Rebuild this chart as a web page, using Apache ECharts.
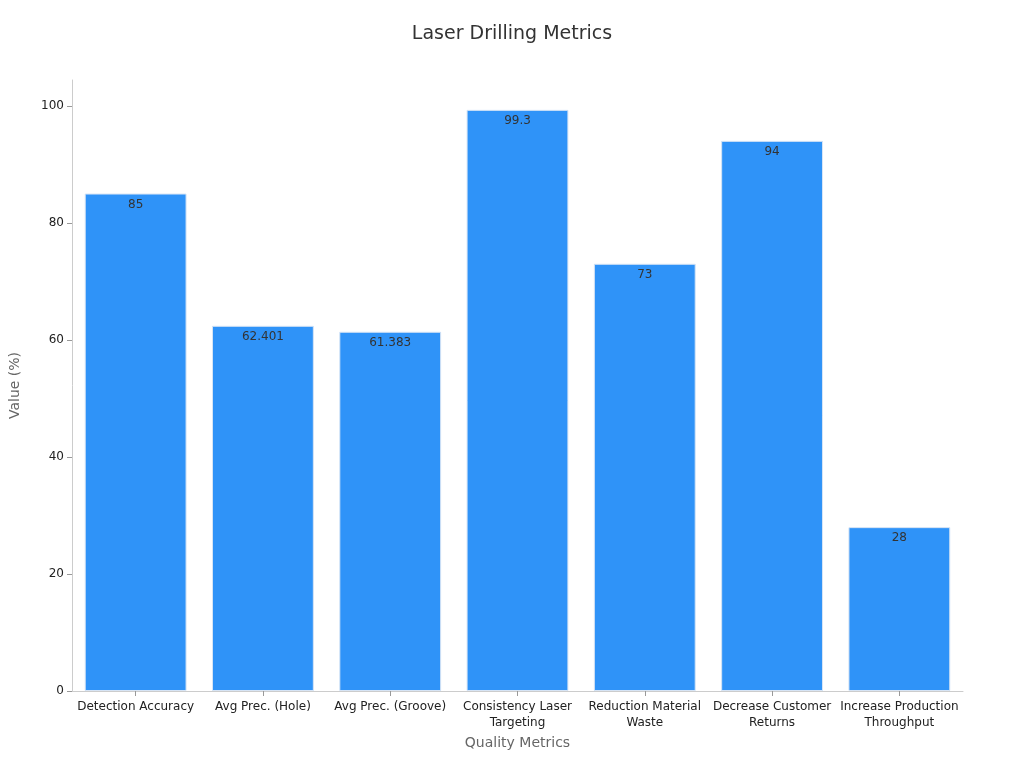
<!DOCTYPE html>
<html>
<head>
<meta charset="utf-8">
<script src="https://cdn.jsdelivr.net/npm/echarts@6/dist/echarts.min.js"></script>
<style>html,body{margin:0;padding:0;background:#fff}#container{width:1024px;height:768px}</style>
</head>
<body>
<div id="container"></div>
<script>
var categories = ['Detection Accuracy', 'Avg Prec. (Hole)', 'Avg Prec. (Groove)', 'Consistency Laser\nTargeting', 'Reduction Material\nWaste', 'Decrease Customer\nReturns', 'Increase Production\nThroughput'];
var values = [85, 62.401, 61.383, 99.3, 73, 94, 28];

var myChart = echarts.init(document.getElementById('container'));
var option = {
	textStyle: { fontFamily: 'DejaVu Sans' },
	title: {
		text: 'Laser Drilling Metrics',
		left: 'center',
		top: 20,
		textStyle: { fontSize: 19, fontWeight: 'normal', color: '#333' }
	},
	grid: { left: 68, right: 61, top: 80, bottom: 77 },
	xAxis: {
		type: 'category',
		data: categories,
		name: 'Quality Metrics',
		nameLocation: 'middle',
		nameGap: 44,
		nameTextStyle: { fontSize: 14, color: '#666' },
		axisLine: { lineStyle: { color: '#ccc' } },
		axisTick: { show: true, alignWithLabel: true, lineStyle: { color: '#999' } },
		axisLabel: { color: '#222', fontSize: 12, interval: 0, lineHeight: 16 }
	},
	yAxis: {
		type: 'value',
		min: 0,
		max: 104.4,
		interval: 20,
		name: 'Value (%)',
		nameLocation: 'middle',
		nameGap: 50,
		nameTextStyle: { fontSize: 14, color: '#666' },
		axisLine: { show: true, lineStyle: { color: '#ccc' } },
		axisTick: { show: true, lineStyle: { color: '#999' } },
		splitLine: { show: false },
		axisLabel: { color: '#222', fontSize: 12, showMaxLabel: false }
	},
	series: [{
		type: 'bar',
		data: values,
		barWidth: '80%',
		itemStyle: { color: '#2f93f8', borderColor: '#d6e4f5', borderWidth: 1 },
		label: { show: true, position: 'insideTop', color: '#333', fontSize: 12 }
	}]
};
myChart.setOption(option);
</script>
</body>
</html>
